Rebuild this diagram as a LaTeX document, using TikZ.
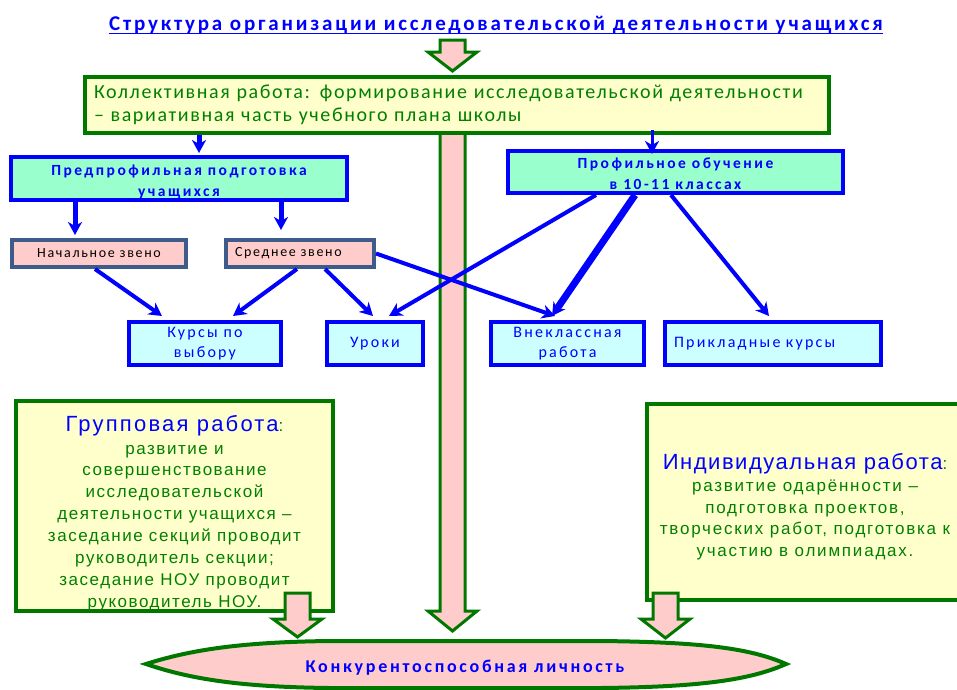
\documentclass[tikz,border=0pt]{standalone}
\usepackage{fontspec}
\setmainfont{Carlito}
\newfontfamily\ftitle[LetterSpace=13.5]{Carlito}
\newfontfamily\fcoll[LetterSpace=8]{Carlito}
\newfontfamily\fmint[LetterSpace=16]{Carlito}
\newfontfamily\fzv[LetterSpace=12]{Carlito}
\newfontfamily\fcy[LetterSpace=14]{Carlito}
\newfontfamily\fgoal[LetterSpace=15]{Carlito}
\newfontfamily\fgb[LetterSpace=9]{Liberation Sans}
\newfontfamily\fib[LetterSpace=10.5]{Liberation Sans}
\newfontfamily\fgt[LetterSpace=10]{Liberation Sans}
\newfontfamily\fit[LetterSpace=7]{Liberation Sans}
\usetikzlibrary{arrows.meta,calc}
\definecolor{gborder}{RGB}{0,120,0}
\definecolor{gtext}{RGB}{0,128,0}
\definecolor{yfill}{RGB}{255,255,204}
\definecolor{mint}{RGB}{153,255,204}
\definecolor{pinkf}{RGB}{255,204,204}
\definecolor{cyanf}{RGB}{204,255,255}
\definecolor{slate}{RGB}{62,92,138}
\definecolor{bl}{RGB}{0,0,255}
\tikzset{
  box/.style={draw,line width=4pt,inner sep=0pt,anchor=center,align=center},
  yellowbox/.style={box,draw=gborder,fill=yfill},
  mintbox/.style={box,draw=bl,fill=mint,text=bl,font=\fmint\bfseries\fontsize{15.5}{21}\selectfont},
  zvbox/.style={box,draw=slate,fill=pinkf,font=\fzv\fontsize{14}{15}\selectfont},
  cybox/.style={box,draw=bl,fill=cyanf,text=bl,font=\fcy\fontsize{16}{20}\selectfont},
  blockarr/.style={draw=gborder,fill=pinkf,line width=3pt,line join=miter},
  arr/.style={draw=bl,line width=4pt,-{Stealth[length=13pt,width=14pt,inset=4pt]}},
  arrthick/.style={arr,line width=7pt},
}
\begin{document}
\begin{tikzpicture}[x=1pt,y=-1pt]
\clip (0,0) rectangle (957,689);
\fill[white] (0,0) rectangle (957,689);
% title
\node[inner sep=0pt,anchor=base,text=bl,font=\ftitle\bfseries\fontsize{21}{22}\selectfont] (title) at (496,30) {Структура организации исследовательской деятельности учащихся};
\draw[bl,line width=1.5pt] ([yshift=-3.5pt]title.base west) -- ([yshift=-3.5pt]title.base east);
% top block arrow
\draw[blockarr] (440,40) -- (465,40) -- (465,52) -- (477,52) -- (452.5,71) -- (428,52) -- (440,52) -- cycle;
% main shaft
\draw[blockarr] (440,133) -- (465,133) -- (465,611) -- (477,611) -- (452.5,631) -- (428,611) -- (440,611) -- cycle;
% collective box
\node[yellowbox,minimum width=744pt,minimum height=56pt,align=left,text width=726pt,text=gtext,font=\fcoll\fontsize{20}{23}\selectfont] (coll) at (457,105)
 {Коллективная работа: формирование исследовательской деятельности\\– вариативная часть учебного плана школы};
% second-level boxes
\node[mintbox,minimum width=336pt,minimum height=43pt] (pre) at (179,178.5) {\rule{0pt}{17pt}Предпрофильная подготовка\\учащихся};
\node[mintbox,minimum width=335pt,minimum height=42pt] (prof) at (675.5,172) {\rule{0pt}{14pt}Профильное обучение\\в  10-11 классах};
\node[zvbox,minimum width=174pt,minimum height=27pt] (nach) at (99,253.5) {Начальное звено};
\node[zvbox,minimum width=148pt,minimum height=27pt,align=left,text width=130pt] (sred) at (300,253.5) {Среднее звено};
% bottom row
\node[cybox,minimum width=152pt,minimum height=43pt] (kurs) at (205,343.5) {Курсы по\\выбору};
\node[cybox,minimum width=96pt,minimum height=43pt] (urok) at (375,343.5) {Уроки};
\node[cybox,minimum width=153pt,minimum height=43pt] (vnek) at (567.5,343.5) {Внеклассная\\работа};
\node[cybox,minimum width=216pt,minimum height=43pt,align=left,text width=198pt] (prik) at (773,343.5) {Прикладные курсы};
% connectors
\draw[arr,line width=5pt] ([xshift=116pt]coll.south west) -- ([xshift=190pt,yshift=2pt]pre.north west);
\draw[arr,line width=5pt] ([xshift=66pt]pre.south west) -- ([xshift=65pt,yshift=3pt]nach.north west);
\draw[arr,line width=5pt] ([xshift=272pt]pre.south west) -- ([xshift=57pt,yshift=8pt]sred.north west);
\draw[arr,line width=3pt] ([xshift=569pt,yshift=5pt]coll.south west) -- ([xshift=146pt,yshift=-5pt]prof.north west);
\draw[arr] ([xshift=85pt]nach.south west) -- ([xshift=35pt,yshift=4pt]kurs.north west);
\draw[arr] ([xshift=73pt]sred.south west) -- ([xshift=106pt,yshift=4pt]kurs.north west);
\draw[arr] ([xshift=101pt]sred.south west) -- ([xshift=48pt,yshift=4pt]urok.north west);
\draw[arr] (sred.east) -- ([xshift=66pt,yshift=4pt]vnek.north west);
\draw[arr] ([xshift=90pt]prof.south west) -- ([xshift=64pt,yshift=4pt]urok.north west);
\draw[arrthick] ([xshift=129pt]prof.south west) -- ([xshift=63pt,yshift=4pt]vnek.north west);
\draw[arr] ([xshift=165pt]prof.south west) -- ([xshift=106pt,yshift=4pt]prik.north west);
% group box
\node[yellowbox,minimum width=317pt,minimum height=204pt,text=gtext,font=\fgb\fontsize{17}{21.9}\selectfont] (grp) at (174.5,506)
 {\rule{0pt}{30pt}{\fgt\color{bl}\fontsize{22}{23}\selectfont Групповая работа}:\\[1pt]развитие и\\совершенствование\\исследовательской\\деятельности учащихся –\\заседание секций проводит\\руководитель секции;\\заседание НОУ проводит\\руководитель НОУ.};
% individual box
\node[yellowbox,minimum width=316pt,minimum height=196pt,text=gtext,font=\fib\fontsize{17}{21.7}\selectfont] (ind) at (805,502)
 {\rule{0pt}{26pt}{\fit\color{bl}\fontsize{22}{23}\selectfont Индивидуальная  работа}:\\развитие одарённости –\\подготовка проектов,\\творческих работ, подготовка к\\участию в олимпиадах.};
% small block arrows
\draw[blockarr] (285,593) -- (310,593) -- (310,619) -- (322,619) -- (297.5,637) -- (273,619) -- (285,619) -- cycle;
\draw[blockarr] (653,593) -- (678,593) -- (678,619) -- (690,619) -- (665.5,638) -- (641,619) -- (653,619) -- cycle;
% goal shape
\draw[draw=gborder,fill=pinkf,line width=4pt] (146,664) .. controls (190,650) and (240,642) .. (330,641) -- (600,641) .. controls (700,642) and (750,648) .. (786,664) .. controls (750,680) and (700,687) .. (600,688) -- (330,688) .. controls (240,687) and (190,679) .. (146,664) -- cycle;
\node[inner sep=0pt,anchor=base,text=bl,font=\fgoal\bfseries\fontsize{18}{20}\selectfont] (goal) at (465,672) {Конкурентоспособная личность};
\end{tikzpicture}
\end{document}
